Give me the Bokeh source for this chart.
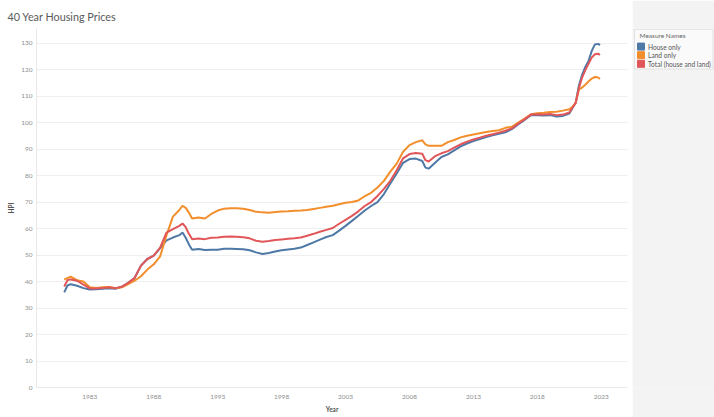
from bokeh.plotting import figure
from bokeh.models import Range1d, FixedTicker, ColumnDataSource
from bokeh.layouts import row
from bokeh.embed import file_html
from bokeh.resources import INLINE
from bokeh.core.properties import value

# ---------------- data ----------------
years = [1981.0, 1981.25, 1981.5, 1982.0, 1982.5, 1983.0, 1983.5, 1984.0, 1984.5, 1985.0,
         1985.5, 1986.0, 1986.5, 1987.0, 1987.5, 1988.0, 1988.5, 1989.0, 1989.5, 1990.0,
         1990.25, 1990.5, 1990.75, 1991.0, 1991.5, 1992.0, 1992.5, 1993.0, 1993.5, 1994.0,
         1994.5, 1995.0, 1995.5, 1996.0, 1996.5, 1997.0, 1997.5, 1998.0, 1998.5, 1999.0,
         1999.5, 2000.0, 2000.5, 2001.0, 2001.5, 2002.0, 2002.5, 2003.0, 2003.5, 2004.0,
         2004.5, 2005.0, 2005.5, 2006.0, 2006.5, 2007.0, 2007.5, 2008.0, 2008.5, 2009.0,
         2009.25, 2009.5, 2010.0, 2010.5, 2011.0, 2011.5, 2012.0, 2012.5, 2013.0, 2013.5,
         2014.0, 2014.5, 2015.0, 2015.5, 2016.0, 2016.5, 2017.0, 2017.5, 2018.0, 2018.5,
         2019.0, 2019.5, 2020.0, 2020.5, 2020.75, 2021.0, 2021.25, 2021.5, 2021.75, 2022.0,
         2022.25, 2022.5, 2022.75, 2022.9]

house_only = [35.9, 38.5, 39.0, 38.4, 37.5, 37.0, 37.1, 37.3, 37.5, 37.3,
              38.0, 39.5, 41.3, 46.0, 48.5, 49.8, 52.6, 55.5, 56.6, 57.5,
              58.5, 56.5, 54.0, 52.0, 52.3, 51.9, 52.0, 52.0, 52.4, 52.4,
              52.3, 52.2, 51.8, 51.0, 50.4, 50.8, 51.3, 51.8, 52.1, 52.4,
              52.8, 53.8, 54.8, 55.8, 56.8, 57.5, 59.2, 61.0, 62.9, 64.8,
              66.8, 68.5, 70.0, 73.0, 77.0, 80.8, 84.8, 86.2, 86.4, 85.5,
              83.0, 82.6, 84.8, 87.0, 88.0, 89.5, 91.0, 92.1, 93.0, 93.8,
              94.5, 95.2, 95.8, 96.3, 97.5, 99.3, 101.0, 102.8, 102.8, 102.7,
              102.8, 102.3, 102.5, 103.4, 105.5, 107.5, 114.0, 118.0, 121.0, 123.2,
              127.0, 129.5, 129.7, 129.2]

land_only = [40.7, 41.3, 41.8, 40.5, 40.0, 37.8, 37.6, 37.8, 37.9, 37.5,
             37.8, 39.0, 40.3, 42.0, 44.5, 46.5, 49.5, 57.5, 64.5, 67.0,
             68.6, 67.8, 66.0, 63.8, 64.2, 63.8, 65.5, 66.8, 67.5, 67.7,
             67.7, 67.5, 67.0, 66.3, 66.1, 66.0, 66.2, 66.4, 66.5, 66.7,
             66.8, 67.0, 67.4, 67.8, 68.2, 68.6, 69.2, 69.7, 70.0, 70.6,
             72.2, 73.5, 75.5, 78.0, 81.5, 84.5, 89.0, 91.5, 92.6, 93.3,
             91.8, 91.2, 91.2, 91.2, 92.6, 93.4, 94.4, 95.0, 95.5, 96.0,
             96.4, 96.8, 97.1, 98.0, 98.4, 100.0, 101.5, 103.1, 103.5, 103.7,
             104.0, 104.1, 104.5, 105.0, 106.0, 107.5, 112.5, 113.2, 114.3, 115.5,
             116.6, 117.2, 117.0, 116.5]

total_house_land = [38.1, 40.5, 40.8, 40.3, 38.8, 37.4, 37.4, 37.6, 37.8, 37.5,
                    38.0, 39.5, 41.3, 46.0, 48.5, 49.8, 52.8, 58.5, 59.8, 61.0,
                    61.9, 60.5, 58.0, 56.0, 56.2, 56.0, 56.5, 56.6, 56.9, 57.0,
                    56.9, 56.7, 56.3, 55.4, 55.0, 55.3, 55.7, 55.9, 56.1, 56.3,
                    56.6, 57.3, 58.0, 58.8, 59.5, 60.2, 61.8, 63.3, 64.8, 66.5,
                    68.5, 70.0, 72.3, 75.0, 78.0, 82.0, 86.5, 88.1, 88.5, 88.2,
                    85.8, 85.3, 87.3, 88.4, 89.2, 90.5, 91.8, 92.8, 93.6, 94.3,
                    95.0, 95.6, 96.2, 96.9, 97.8, 99.6, 101.2, 103.0, 103.1, 103.0,
                    103.2, 102.8, 103.0, 103.8, 105.7, 107.5, 113.0, 117.0, 119.8, 122.2,
                    124.5, 125.8, 126.0, 125.5]

series_names = ["House only", "Land only", "Total (house and land)"]
series_values = [house_only, land_only, total_house_land]
series_colors = ["#4e79a7", "#f28e2b", "#e15759"]

x_ticks = [1983, 1988, 1993, 1998, 2003, 2008, 2013, 2018, 2023]
x_tick_labels = ["1983", "1988", "1993", "1998", "2003", "2008", "2013", "2018", "2023"]
y_ticks = [0, 10, 20, 30, 40, 50, 60, 70, 80, 90, 100, 110, 120, 130]
y_tick_labels = [str(v) for v in y_ticks]

FONT = "Lato"
TICK_COLOR = "#8f8f8f"
LABEL_COLOR = "#555555"

# ---------------- main chart ----------------
p = figure(width=632, height=417, output_backend="svg", toolbar_location=None,
           x_range=Range1d(1978.83, 2025.05), y_range=Range1d(0, 135.5),
           min_border_left=36, min_border_right=5, min_border_top=28, min_border_bottom=30)

p.title.text = "40 Year Housing Prices"
p.title.text_font = FONT
p.title.text_font_size = "10.8px"
p.title.text_font_style = "normal"
p.title.text_color = "#5a5a5a"
p.title.align = "left"
p.title.offset = -29
p.title.standoff = 12

p.outline_line_color = None
p.background_fill_color = "white"
p.border_fill_color = "white"

for name, vals, col in zip(series_names, series_values, series_colors):
    src = ColumnDataSource(dict(x=years, y=vals))
    p.line("x", "y", source=src, line_color=col, line_width=2)

p.xgrid.grid_line_color = None
p.ygrid.grid_line_color = "#efefef"
p.ygrid.ticker = FixedTicker(ticks=y_ticks)

p.xaxis.ticker = FixedTicker(ticks=x_ticks)
p.xaxis.major_label_overrides = {t: l for t, l in zip(x_ticks, x_tick_labels)}
p.yaxis.ticker = FixedTicker(ticks=y_ticks)
p.yaxis.major_label_overrides = {t: l for t, l in zip(y_ticks, y_tick_labels)}

for ax in (p.xaxis[0], p.yaxis[0]):
    ax.axis_line_color = "#e8e8e8"
    ax.major_tick_line_color = None
    ax.minor_tick_line_color = None
    ax.major_tick_out = 0
    ax.major_tick_in = 0
    ax.major_label_text_font = FONT
    ax.major_label_text_font_size = "6.5px"
    ax.major_label_text_color = TICK_COLOR
    ax.axis_label_text_font = FONT
    ax.axis_label_text_font_size = "6.5px"
    ax.axis_label_text_font_style = "bold"
    ax.axis_label_text_color = LABEL_COLOR

p.xaxis.axis_label = "Year"
p.xaxis.major_label_standoff = 7
p.xaxis.axis_label_standoff = 4
p.yaxis.axis_label = "HPI"
p.yaxis.major_label_standoff = 4
p.yaxis.axis_label_standoff = 3

# ---------------- legend panel ----------------
s = figure(width=82, height=417, output_backend="svg", toolbar_location=None,
           x_range=Range1d(0, 82), y_range=Range1d(417, 0), min_border=0)
s.axis.visible = False
s.grid.visible = False
s.outline_line_color = None
s.background_fill_color = "#f3f3f3"
s.border_fill_color = "#f3f3f3"

s.quad(left=[2], right=[80.5], top=[1], bottom=[47],
       fill_color="#fafafa", line_color="#e2e2e2", line_width=1)
s.text(x=[7], y=[8.5], text=["Measure Names"], text_font=value(FONT), text_font_size="6.5px",
       text_color="#666666", text_baseline="middle", text_align="left")

leg_y = [21 + 10 * i for i in range(len(series_names))]
leg_src = ColumnDataSource(dict(x=[8.5] * len(series_names), y=leg_y,
                                tx=[15.5] * len(series_names), name=series_names,
                                color=series_colors))
s.scatter("x", "y", source=leg_src, marker="square", size=7, fill_color="color",
          line_color="color")
s.text("tx", "y", text="name", source=leg_src, text_font=value(FONT), text_font_size="6.6px",
       text_color="#555555", text_baseline="middle", text_align="left")

layout = row(p, s, spacing=0)
open("out.html", "w").write(file_html(layout, INLINE))
